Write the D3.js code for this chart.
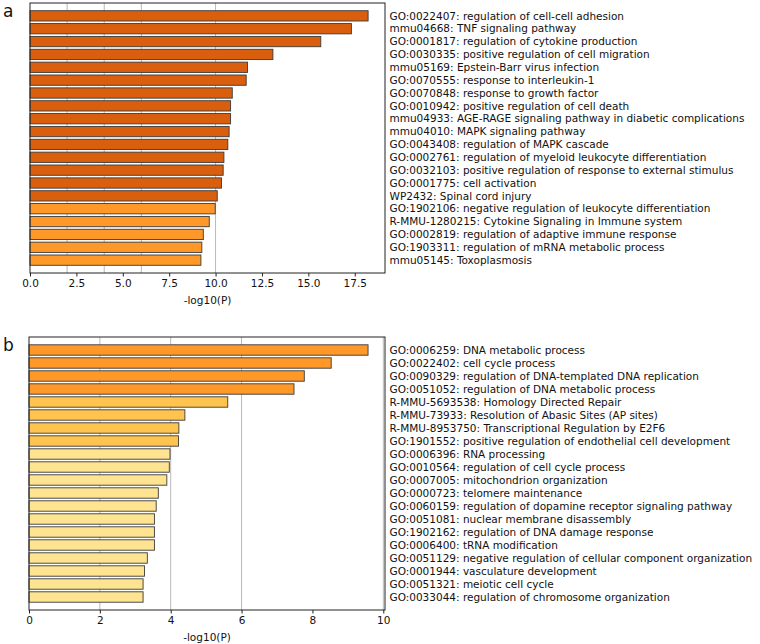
<!DOCTYPE html>
<html>
<head>
<meta charset="utf-8">
<script src="https://cdn.jsdelivr.net/npm/d3@7"></script>
<style>
  body { margin: 0; background: #fff; }
  text { font-family: "DejaVu Sans", sans-serif; fill: #111; }
</style>
</head>
<body>
<div id="chart"></div>
<script>
// panel a terms and -log10(P)
const termsA = [
    "GO:0022407: regulation of cell-cell adhesion",
    "mmu04668: TNF signaling pathway",
    "GO:0001817: regulation of cytokine production",
    "GO:0030335: positive regulation of cell migration",
    "mmu05169: Epstein-Barr virus infection",
    "GO:0070555: response to interleukin-1",
    "GO:0070848: response to growth factor",
    "GO:0010942: positive regulation of cell death",
    "mmu04933: AGE-RAGE signaling pathway in diabetic complications",
    "mmu04010: MAPK signaling pathway",
    "GO:0043408: regulation of MAPK cascade",
    "GO:0002761: regulation of myeloid leukocyte differentiation",
    "GO:0032103: positive regulation of response to external stimulus",
    "GO:0001775: cell activation",
    "WP2432: Spinal cord injury",
    "GO:1902106: negative regulation of leukocyte differentiation",
    "R-MMU-1280215: Cytokine Signaling in Immune system",
    "GO:0002819: regulation of adaptive immune response",
    "GO:1903311: regulation of mRNA metabolic process",
    "mmu05145: Toxoplasmosis"
];
const valuesA = [18.22, 17.32, 15.67, 13.09, 11.72, 11.65, 10.90, 10.81, 10.81, 10.73,
                 10.66, 10.45, 10.41, 10.32, 10.09, 9.98, 9.66, 9.34, 9.26, 9.21];

// panel b terms and -log10(P)
const termsB = [
    "GO:0006259: DNA metabolic process",
    "GO:0022402: cell cycle process",
    "GO:0090329: regulation of DNA-templated DNA replication",
    "GO:0051052: regulation of DNA metabolic process",
    "R-MMU-5693538: Homology Directed Repair",
    "R-MMU-73933: Resolution of Abasic Sites (AP sites)",
    "R-MMU-8953750: Transcriptional Regulation by E2F6",
    "GO:1901552: positive regulation of endothelial cell development",
    "GO:0006396: RNA processing",
    "GO:0010564: regulation of cell cycle process",
    "GO:0007005: mitochondrion organization",
    "GO:0000723: telomere maintenance",
    "GO:0060159: regulation of dopamine receptor signaling pathway",
    "GO:0051081: nuclear membrane disassembly",
    "GO:1902162: regulation of DNA damage response",
    "GO:0006400: tRNA modification",
    "GO:0051129: negative regulation of cellular component organization",
    "GO:0001944: vasculature development",
    "GO:0051321: meiotic cell cycle",
    "GO:0033044: regulation of chromosome organization"
];
const valuesB = [9.57, 8.53, 7.77, 7.48, 5.61, 4.40, 4.23, 4.22, 3.98, 3.96,
                 3.89, 3.65, 3.59, 3.54, 3.54, 3.54, 3.34, 3.26, 3.22, 3.22];

// p-value bins used for colouring and the vertical grid
const pBins = [4, 6, 10, 20];
const binColors = ["#fee391", "#fec44f", "#fe9929", "#d95f0e", "#993404"];
const gridValues = [2, 4, 6, 10, 20];

const ticksA = [0, 2.5, 5, 7.5, 10, 12.5, 15, 17.5];
const ticksB = [0, 2, 4, 6, 8, 10];

const width = 760, height = 644;

const svg = d3.select("#chart").append("svg")
    .attr("width", width)
    .attr("height", height);

const color = d3.scaleThreshold().domain(pBins).range(binColors);

function drawPanel(letter, terms, values, ticks, tickFmt, box) {
    const g = svg.append("g");

    let x = d3.scaleLinear()
        .domain([0, d3.max(values) * 1.05])
        .range([box.left, box.right]);

    let y = d3.scaleLinear()
        .domain([-1, terms.length])
        .range([box.top, box.bottom]);
    let step = y(1) - y(0);
    let barH = step * 0.8;

    // grid lines behind the bars
    g.append("g")
        .selectAll("line")
        .data(gridValues.filter(v => x(v) < box.right - 1))
        .enter().append("line")
        .attr("x1", d => x(d)).attr("x2", d => x(d))
        .attr("y1", box.top).attr("y2", box.bottom)
        .attr("stroke", "#b8b8b8")
        .attr("stroke-width", 1);

    g.append("g")
        .selectAll("rect")
        .data(values)
        .enter().append("rect")
        .attr("x", x(0))
        .attr("y", (d, i) => y(i) - barH / 2)
        .attr("width", d => x(d) - x(0))
        .attr("height", barH)
        .attr("fill", d => color(d))
        .attr("stroke", "#3a3a3a")
        .attr("stroke-width", 0.9);

    // frame
    g.append("rect")
        .attr("x", box.left).attr("y", box.top)
        .attr("width", box.right - box.left)
        .attr("height", box.bottom - box.top)
        .attr("fill", "none")
        .attr("stroke", "#222")
        .attr("stroke-width", 1);

    let axis = g.append("g")
        .attr("transform", "translate(0," + box.bottom + ")")
        .call(d3.axisBottom(x).tickValues(ticks).tickFormat(tickFmt).tickSizeOuter(0).tickSize(3.5).tickPadding(3));
    axis.select(".domain").remove();
    axis.selectAll("line").attr("stroke", "#222");
    axis.selectAll("text")
        .attr("font-size", 10.5)
        .attr("font-family", "DejaVu Sans, sans-serif")
        .attr("fill", "#111");

    g.append("text")
        .attr("x", (box.left + box.right) / 2)
        .attr("y", box.bottom + 31)
        .attr("text-anchor", "middle")
        .attr("font-size", 10.5)
        .text("-log10(P)");

    g.append("g")
        .selectAll("text")
        .data(terms)
        .enter().append("text")
        .attr("x", box.right + 4.5)
        .attr("y", (d, i) => y(i))
        .attr("dy", "0.35em")
        .attr("font-size", 10.5)
        .text(d => d);

    g.append("text")
        .attr("x", 3)
        .attr("y", box.top + 14)
        .attr("font-family", "Liberation Sans, Arial, sans-serif")
        .attr("font-size", 17)
        .text(letter);
}

drawPanel("a", termsA, valuesA, ticksA, d3.format(".1f"),
    {left: 30, right: 385, top: 3, bottom: 273});
drawPanel("b", termsB, valuesB, ticksB, d3.format("d"),
    {left: 29, right: 385, top: 337, bottom: 610});
</script>
</body>
</html>
